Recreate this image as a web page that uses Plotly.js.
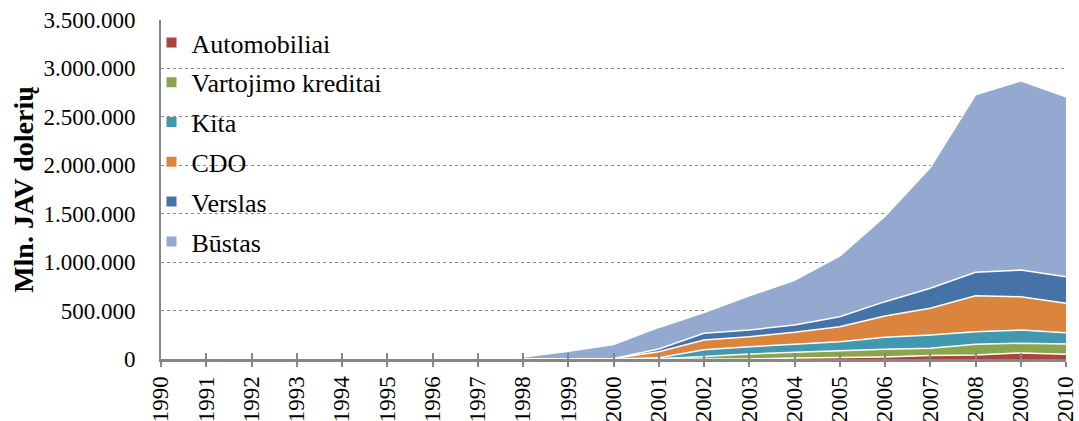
<!DOCTYPE html>
<html>
<head>
<meta charset="utf-8">
<script src="https://cdn.plot.ly/plotly-3.0.1.min.js"></script>
<style>html,body{margin:0;padding:0;background:#fff;}#chart{width:1079px;height:421px;}</style>
</head>
<body>
<div id="chart"></div>
<script>
var years = [1990,1991,1992,1993,1994,1995,1996,1997,1998,1999,2000,2001,2002,2003,2004,2005,2006,2007,2008,2009,2010];
var automobiliai = [0,0,0,0,0,0,0,0,0,0,0,0,0,0,10000,15000,20000,35000,41000,62000,50000];
var vartojimo = [0,0,0,0,0,0,0,0,0,0,0,2000,25000,52000,59000,71000,80000,75000,111000,100000,105000];
var kita = [0,0,0,0,0,0,0,0,0,0,0,12000,70000,75000,86000,93000,124000,138000,130000,137000,117000];
var cdo = [0,0,0,0,0,0,0,0,0,0,5000,60000,100000,103000,121000,154000,220000,275000,372000,344000,303000];
var verslas = [0,0,0,0,0,0,0,0,0,0,0,30000,70000,69000,75000,104000,148000,207000,241000,276000,275000];
var bustas = [4000,4000,5000,5000,6000,7000,8000,10000,20000,80000,145000,222000,215000,353000,462000,627000,883000,1246000,1833000,1953000,1858000];

var names = ["Automobiliai","Vartojimo kreditai","Kita","CDO","Verslas","Būstas"];
var colors = ["#A9443F","#8BA54C","#4298AE","#DB843D","#4572A7","#93A9CF"];
var series = [automobiliai, vartojimo, kita, cdo, verslas, bustas];

var traces = [];
series.forEach(function(s, i){
  traces.push({
    x: years, y: s, type: 'scatter', mode: 'lines', stackgroup: 'one',
    name: names[i], fillcolor: colors[i],
    line: {color: '#ffffff', width: 1.5},
    showlegend: false, hoverinfo: 'skip'
  });
});
names.forEach(function(n, i){
  traces.push({
    x: [null], y: [null], type: 'scatter', mode: 'markers', name: n,
    legendgroup: 'g' + i,
    marker: {symbol: 'square', size: 10, color: colors[i]},
    showlegend: true
  });
});
traces.push({x: [years[0]], y: [0], xaxis: 'x2', type: 'scatter', mode: 'markers', marker: {opacity: 0}, showlegend: false, hoverinfo: 'skip'});

var font = "Liberation Serif, Times New Roman, serif";
var layout = {
  width: 1079, height: 421,
  margin: {l: 161, r: 13, t: 20, b: 62},
  paper_bgcolor: '#ffffff', plot_bgcolor: '#ffffff',
  separators: ',.',
  font: {family: font, size: 23, color: '#000'},
  xaxis: {
    range: [1990, 2010], tickmode: 'array', tickvals: years, ticktext: years.map(String),
    tickangle: -90, ticks: 'outside', ticklen: 5, tickwidth: 2, tickcolor: '#868686',
    showline: true, linecolor: '#868686', linewidth: 3, showgrid: false, zeroline: false,
    tickfont: {family: font, size: 23}, fixedrange: true
  },
  xaxis2: {
    overlaying: 'x', range: [1990, 2010], tickmode: 'array', tickvals: years,
    ticks: 'inside', ticklen: 6, tickwidth: 2, tickcolor: '#868686', showticklabels: false,
    showline: false, showgrid: false, zeroline: false, anchor: 'y', side: 'bottom'
  },
  yaxis: {
    range: [0, 3500000], tickmode: 'linear', tick0: 0, dtick: 500000, tickformat: ',d',
    showline: true, linecolor: '#868686', linewidth: 2,
    ticks: 'outside', ticklen: 19, tickcolor: 'rgba(0,0,0,0)',
    showgrid: true, gridcolor: '#8c8c8c', griddash: 'dot', gridwidth: 1,
    zeroline: false, tickfont: {family: font, size: 23},
    title: {text: '\u00a0\u00a0\u00a0\u00a0\u00a0\u00a0\u00a0<b>Mln. JAV dolerių</b>', font: {family: font, size: 28}, standoff: 2}
  },
  legend: {
    x: -0.0105, y: 1.003, xanchor: 'left', yanchor: 'top', maxheight: 400,
    bgcolor: 'rgba(255,255,255,0)', font: {family: font, size: 26, color: '#000'},
    tracegroupgap: 3, traceorder: 'grouped'
  },
  showlegend: true
};
Plotly.newPlot('chart', traces, layout, {displayModeBar: false, staticPlot: true});
</script>
</body>
</html>
